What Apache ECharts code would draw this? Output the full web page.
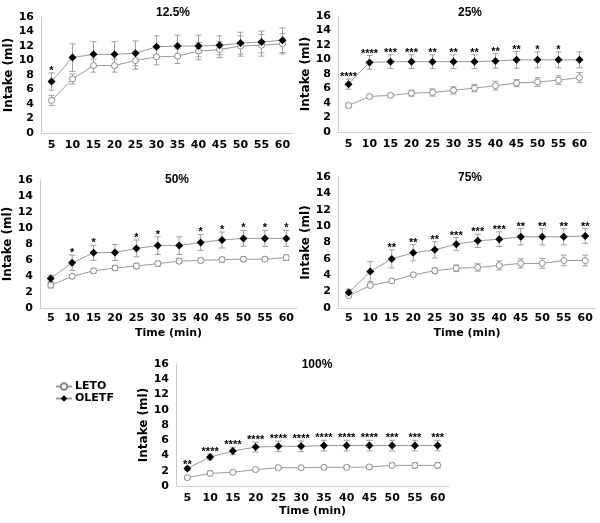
<!DOCTYPE html>
<html><head><meta charset="utf-8">
<script src="https://cdn.jsdelivr.net/npm/echarts@6/dist/echarts.min.js"></script>
<style>html,body{margin:0;padding:0;background:#fff}#c{width:600px;height:523px}</style>
</head><body><div id="c"></div>
<script>
// ---- data ----
const times = ['5','10','15','20','25','30','35','40','45','50','55','60'];
const yTicks = [0,2,4,6,8,10,12,14,16];

const leto125    = [4.5, 7.45, 9.3, 9.3, 10.0, 10.5, 10.6, 11.3, 11.5, 12.0, 12.1, 12.3];
const letoSd125  = [0.7, 0.7, 0.9, 0.9, 1.2, 1.1, 1.0, 1.2, 1.1, 1.4, 1.5, 1.4];
const oletf125   = [7.1, 10.4, 10.85, 10.85, 11.0, 11.9, 12.0, 12.0, 12.1, 12.4, 12.55, 12.8];
const oletfSd125 = [1.2, 1.9, 1.75, 1.75, 1.7, 1.5, 1.5, 1.5, 1.3, 1.5, 1.5, 1.7];
const stars125   = ['*','','','','','','','','','','',''];

const leto25     = [3.65, 4.9, 5.05, 5.35, 5.45, 5.75, 6.05, 6.4, 6.75, 6.9, 7.15, 7.5];
const letoSd25   = [0.3, 0.2, 0.2, 0.4, 0.5, 0.5, 0.5, 0.6, 0.5, 0.6, 0.6, 0.7];
const oletf25    = [6.6, 9.6, 9.7, 9.7, 9.7, 9.7, 9.7, 9.8, 9.95, 9.95, 9.95, 9.95];
const oletfSd25  = [0.7, 0.95, 0.95, 0.95, 0.95, 0.95, 0.95, 1.0, 1.15, 1.1, 1.1, 1.1];
const stars25    = ['****','****','***','***','**','**','**','**','**','*','*',''];

const leto50     = [2.85, 3.95, 4.65, 5.0, 5.25, 5.55, 5.85, 5.95, 6.05, 6.1, 6.1, 6.3];
const letoSd50   = [0.35, 0.25, 0.3, 0.3, 0.35, 0.3, 0.3, 0.3, 0.3, 0.3, 0.25, 0.35];
const oletf50    = [3.7, 5.65, 6.9, 6.95, 7.45, 7.8, 7.8, 8.2, 8.5, 8.7, 8.7, 8.7];
const oletfSd50  = [0.4, 0.95, 0.95, 1.0, 1.05, 1.1, 1.1, 1.0, 1.0, 1.0, 1.0, 1.0];
const stars50    = ['','*','*','','*','*','','*','*','*','*','*'];

const leto75     = [1.5, 2.75, 3.3, 4.05, 4.55, 4.85, 4.95, 5.2, 5.45, 5.45, 5.8, 5.8];
const letoSd75   = [0.2, 0.2, 0.2, 0.2, 0.35, 0.4, 0.45, 0.55, 0.55, 0.6, 0.65, 0.65];
const oletf75    = [1.9, 4.45, 6.0, 6.75, 7.1, 7.8, 8.2, 8.4, 8.7, 8.7, 8.7, 8.8];
const oletfSd75  = [0.4, 1.2, 1.1, 1.0, 1.0, 0.8, 0.8, 0.9, 1.0, 1.0, 1.0, 0.9];
const stars75    = ['','','**','**','**','***','***','***','**','**','**','**'];

const leto100    = [1.1, 1.65, 1.8, 2.15, 2.4, 2.4, 2.45, 2.45, 2.5, 2.7, 2.7, 2.7];
const letoSd100  = [0.2, 0.3, 0.2, 0.2, 0.2, 0.25, 0.25, 0.25, 0.2, 0.3, 0.35, 0.35];
const oletf100   = [2.3, 3.8, 4.6, 5.1, 5.2, 5.2, 5.3, 5.3, 5.3, 5.3, 5.3, 5.3];
const oletfSd100 = [0.2, 0.4, 0.5, 0.65, 0.7, 0.7, 0.7, 0.7, 0.7, 0.7, 0.7, 0.7];
const stars100   = ['**','****','****','****','****','****','****','****','****','***','***','***'];

// ---- layout ----
const FONT = 'DejaVu Sans';
const FONT2 = 'Liberation Sans';
const panels = [
  {title:'12.5%', leto:leto125, letoSd:letoSd125, oletf:oletf125, oletfSd:oletfSd125, stars:stars125,
   grid:{left:41, top:17, width:252, height:116}, tx:173, ty:13, xName:false, lblM:7, yGap:20},
  {title:'25%', leto:leto25, letoSd:letoSd25, oletf:oletf25, oletfSd:oletfSd25, stars:stars25,
   grid:{left:338, top:16, width:252, height:116}, tx:470, ty:13, xName:false, lblM:7, yGap:22},
  {title:'50%', leto:leto50, letoSd:letoSd50, oletf:oletf50, oletfSd:oletfSd50, stars:stars50,
   grid:{left:40, top:180, width:257, height:128}, tx:177, ty:180, xName:true, lblM:5, yGap:18},
  {title:'75%', leto:leto75, letoSd:letoSd75, oletf:oletf75, oletfSd:oletfSd75, stars:stars75,
   grid:{left:338, top:177, width:258, height:131}, tx:470, ty:178, xName:true, lblM:5, yGap:22},
  {title:'100%', leto:leto100, letoSd:letoSd100, oletf:oletf100, oletfSd:oletfSd100, stars:stars100,
   grid:{left:176, top:364, width:273, height:122}, tx:317, ty:365, xName:true, lblM:7, yGap:21}
];

const grids = [], xAxes = [], yAxes = [], series = [], graphics = [];

function errBar(color){
  return function(params, api){
    const x = api.value(0), m = api.value(1), s = api.value(2);
    const hi = api.coord([x, m + s]), lo = api.coord([x, m - s]);
    const w = 3;
    const st = {stroke: color, lineWidth: 1};
    return {type:'group', children:[
      {type:'line', shape:{x1:hi[0], y1:hi[1], x2:lo[0], y2:lo[1]}, style:st},
      {type:'line', shape:{x1:hi[0]-w, y1:hi[1], x2:hi[0]+w, y2:hi[1]}, style:st},
      {type:'line', shape:{x1:lo[0]-w, y1:lo[1], x2:lo[0]+w, y2:lo[1]}, style:st}
    ]};
  };
}

panels.forEach((p, i) => {
  grids.push(Object.assign({containLabel:false}, p.grid));
  xAxes.push({
    type:'category', gridIndex:i, data:times, boundaryGap:true,
    axisLine:{show:true, lineStyle:{color:'#d0d0d0', width:1}},
    axisTick:{show:false},
    axisLabel:{color:'#000', fontFamily:FONT, fontWeight:'bold', fontSize:11, margin:p.lblM, interval:0},
    splitLine:{show:false},
    name: p.xName ? 'Time (min)' : '',
    nameLocation:'middle', nameGap:20,
    nameTextStyle:{color:'#000', fontFamily:FONT, fontWeight:'bold', fontSize:11}
  });
  yAxes.push({
    type:'value', gridIndex:i, min:yTicks[0], max:yTicks[yTicks.length-1], interval:yTicks[1]-yTicks[0],
    axisLine:{show:true, lineStyle:{color:'#c8c8c8', width:1}},
    axisTick:{show:false},
    splitLine:{show:false},
    axisLabel:{color:'#000', fontFamily:FONT, fontWeight:'bold', fontSize:11, margin:7},
    name:'Intake (ml)', nameLocation:'middle', nameRotate:90, nameGap:p.yGap,
    nameTextStyle:{color:'#000', fontFamily:FONT, fontWeight:'bold', fontSize:12}
  });
  series.push({
    type:'custom', xAxisIndex:i, yAxisIndex:i, z:1, silent:true,
    renderItem: errBar('#a0a0a0'),
    data: p.leto.map((v, j) => [j, v, p.letoSd[j]])
  });
  series.push({
    type:'custom', xAxisIndex:i, yAxisIndex:i, z:1, silent:true,
    renderItem: errBar('#a0a0a0'),
    data: p.oletf.map((v, j) => [j, v, p.oletfSd[j]])
  });
  series.push({
    name:'LETO', type:'line', xAxisIndex:i, yAxisIndex:i, z:3, data:p.leto,
    symbol:'circle', symbolSize:6, showAllSymbol:true,
    lineStyle:{color:'#9a9a9a', width:1},
    itemStyle:{color:'#ffffff', borderColor:'#8a8a8a', borderWidth:1}
  });
  series.push({
    name:'OLETF', type:'line', xAxisIndex:i, yAxisIndex:i, z:4, data:p.oletf,
    symbol:'diamond', symbolSize:8, showAllSymbol:true,
    lineStyle:{color:'#9a9a9a', width:1},
    itemStyle:{color:'#000000', borderColor:'#000000', borderWidth:0}
  });
  const st = p.stars;
  series.push({
    type:'custom', xAxisIndex:i, yAxisIndex:i, z:5, silent:true,
    renderItem: function(params, api){
      const txt = st[params.dataIndex];
      if (!txt) return null;
      const pt = api.coord([api.value(0), api.value(1)]);
      return {type:'text', x:pt[0], y:pt[1] - 2,
        style:{text:txt, align:'center', verticalAlign:'middle', fontFamily:FONT2, fontWeight:'bold', fontSize:11, fill:'#000'}};
    },
    data: p.oletf.map((v, j) => [j, v + p.oletfSd[j]])
  });
  graphics.push({type:'text', x:p.tx, y:p.ty,
    style:{text:p.title, align:'center', verticalAlign:'middle', fontFamily:FONT2, fontWeight:'bold', fontSize:12, fill:'#000'}});
});

const chart = echarts.init(document.getElementById('c'), null, {renderer:'canvas'});
chart.setOption({
  animation:false,
  backgroundColor:'#ffffff',
  grid:grids, xAxis:xAxes, yAxis:yAxes, series:series,
  graphic:graphics,
  legend:{
    data:['LETO','OLETF'], orient:'vertical', left:50, top:376, itemGap:1,
    itemWidth:16, itemHeight:8,
    textStyle:{color:'#000', fontFamily:FONT, fontWeight:'bold', fontSize:11, padding:[0,0,0,-2]}
  }
});
</script></body></html>
